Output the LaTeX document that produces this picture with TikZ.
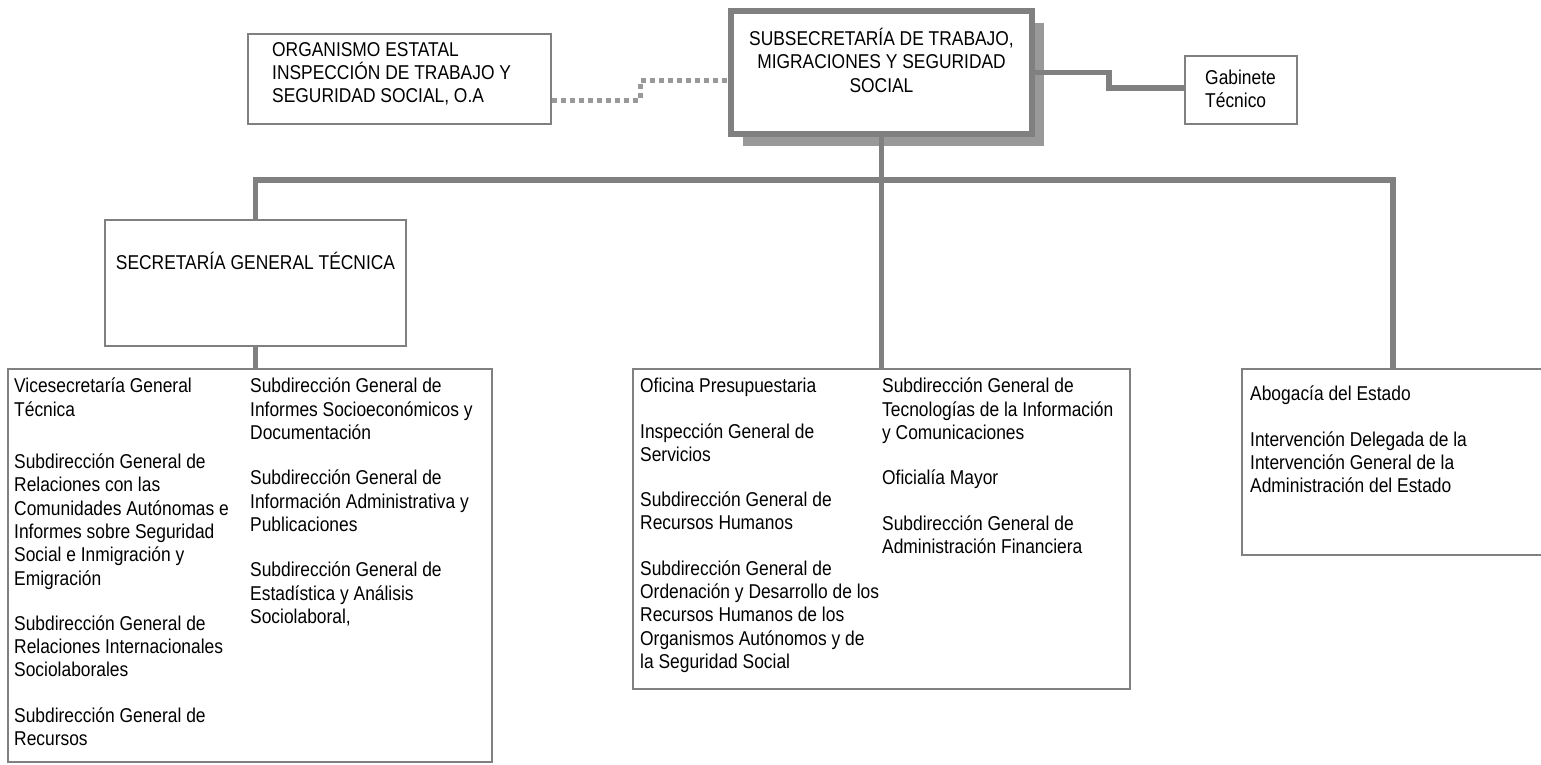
\documentclass[tikz,border=0pt]{standalone}
\usepackage{fontspec}
\setmainfont{Liberation Sans}[FakeStretch=0.87]
\usepackage{tikz}
\usetikzlibrary{shadows}
\definecolor{linegray}{HTML}{808080}
\definecolor{shadegray}{HTML}{999999}

\begin{document}
\begin{tikzpicture}[x=1pt, y=-1pt,
        box/.style={draw=linegray, line width=2pt, fill=white, rectangle, inner sep=0pt, anchor=north west},
        txt/.style={inner sep=0pt, align=left, anchor=north west, font=\fontsize{20}{23.3}\selectfont},
        conn/.style={draw=linegray, line width=5.5pt},
        dots/.style={draw=shadegray, line width=5pt, dash pattern=on 5pt off 4pt}]
        \useasboundingbox (0, 0) rectangle (1541, 764);

        \draw (728, 8) node[box, line width=6pt, minimum width=301pt, minimum height=123pt,
            general shadow={fill=shadegray, shadow xshift=12pt, shadow yshift=-12pt}] (sub) {};
        \draw (247, 33) node[box, minimum width=303pt, minimum height=90pt] (org) {};
        \draw (1184, 55) node[box, minimum width=112pt, minimum height=68pt] (gab) {};
        \draw (104, 219) node[box, minimum width=301pt, minimum height=126pt] (sgt) {};
        \draw (7, 368) node[box, minimum width=484pt, minimum height=393pt] (seclist) {};
        \draw (632, 368) node[box, minimum width=497pt, minimum height=320pt] (midlist) {};
        \draw (1241, 368) node[box, minimum width=302pt, minimum height=186pt] (rightlist) {};

        \draw ([yshift=44.5pt]sub.center) node[txt, anchor=north, align=center] (subtxt)
            {SUBSECRETARÍA DE TRABAJO,\\MIGRACIONES Y SEGURIDAD\\SOCIAL};
        \draw ([shift={(25pt,-9pt)}]org.north west) node[txt] (orgtxt)
            {ORGANISMO ESTATAL\\INSPECCIÓN DE TRABAJO Y\\SEGURIDAD SOCIAL, O.A};
        \draw ([shift={(21pt,-15pt)}]gab.north west) node[txt] (gabtxt) {Gabinete\\Técnico};
        \draw ([yshift=22pt]sgt.center) node[txt, anchor=center] (sgttxt) {SECRETARÍA GENERAL TÉCNICA};

        \draw ([shift={(7pt,-10pt)}]seclist.north west) node[txt] (secA)
            {Vicesecretaría General\\Técnica\\[29pt]
            Subdirección General de\\Relaciones con las\\Comunidades Autónomas e\\Informes sobre Seguridad\\Social e Inmigración y\\Emigración\\[22pt]
            Subdirección General de\\Relaciones Internacionales\\Sociolaborales\\[22pt]
            Subdirección General de\\Recursos};
        \draw ([shift={(243pt,-10pt)}]seclist.north west) node[txt] (secB)
            {Subdirección General de\\Informes Socioeconómicos y\\Documentación\\[22pt]
            Subdirección General de\\Información Administrativa y\\Publicaciones\\[22pt]
            Subdirección General de\\Estadística y Análisis\\Sociolaboral,};

        \draw ([shift={(8pt,-10pt)}]midlist.north west) node[txt] (midA)
            {Oficina Presupuestaria\\[22pt]
            Inspección General de\\Servicios\\[22pt]
            Subdirección General de\\Recursos Humanos\\[22pt]
            Subdirección General de\\Ordenación y Desarrollo de los\\Recursos Humanos de los\\Organismos Autónomos y de\\la Seguridad Social};
        \draw ([shift={(250pt,-10pt)}]midlist.north west) node[txt] (midB)
            {Subdirección General de\\Tecnologías de la Información\\y Comunicaciones\\[22pt]
            Oficialía Mayor\\[22pt]
            Subdirección General de\\Administración Financiera};

        \draw ([shift={(9pt,-18pt)}]rightlist.north west) node[txt] (rightA)
            {Abogacía del Estado\\[22pt]
            Intervención Delegada de la\\Intervención General de la\\Administración del Estado};

        \coordinate (bus) at (1393, 180);

        \draw[conn] (sub.south) -- (midlist.north);
        \draw[conn] (sgt.north) |- (bus) -- (rightlist.north);
        \draw[conn] (sgt.south) -- (sgt.south |- seclist.north);
        \draw[conn] (sub.east) -- ++(74, 0) |- ([yshift=2pt]gab.west);
        \draw[dots] ([yshift=-21pt]org.east) -- ++(88, 0) |- ([yshift=-8pt]sub.west);
    \end{tikzpicture}
\end{document}
